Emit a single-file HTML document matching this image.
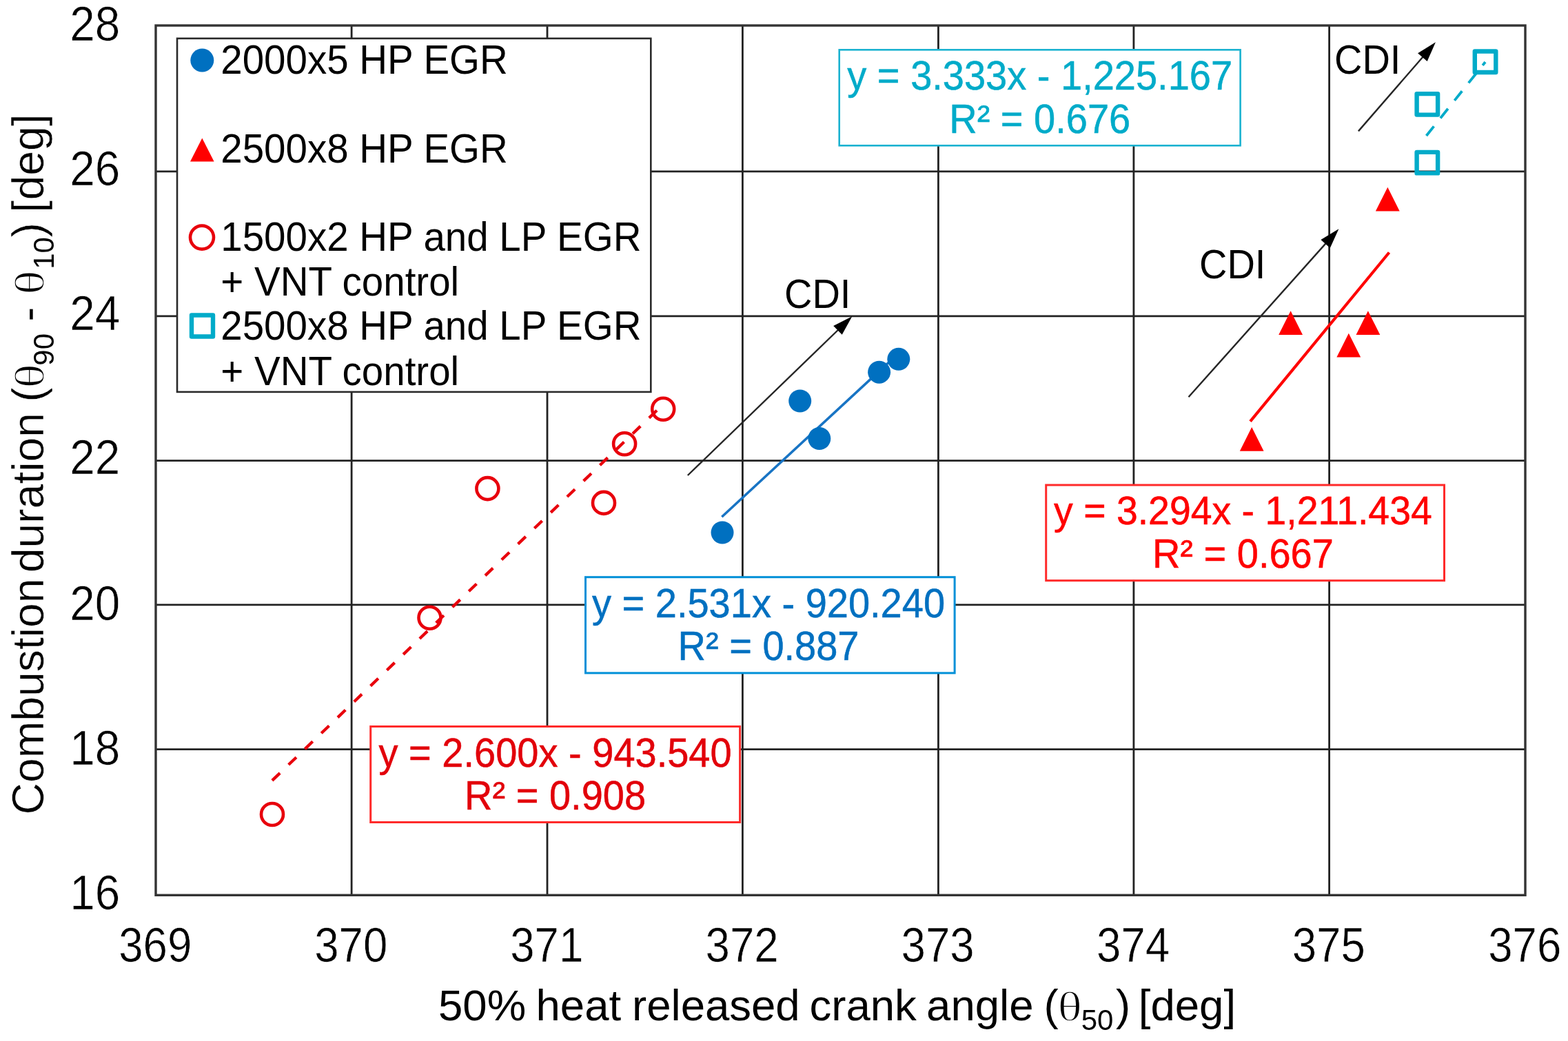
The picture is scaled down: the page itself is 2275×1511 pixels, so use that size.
<!DOCTYPE html>
<html lang="en"><head><meta charset="utf-8"><title>Combustion duration vs 50% heat released crank angle</title>
<style>
html,body{margin:0;padding:0;background:#fff;}
body{width:2275px;height:1511px;overflow:hidden;}
svg{display:block;filter:blur(0.6px);}
text{font-family:"Liberation Sans", Arial, Helvetica, sans-serif;fill:#000;white-space:pre;stroke:none;}
.tick{font-size:63.6px;}
.tick text{stroke:#fff;stroke-width:0.6px;}
.tx{font-size:63.5px;}
.ty{font-size:64.3px;stroke:#fff;stroke-width:0.5px;}
.leg{font-size:56.5px;}
.eq{font-size:56px;text-anchor:middle;stroke-width:0.5px;}
.cdi{font-size:56px;}
.th{font-family:"Liberation Serif","DejaVu Serif",serif;font-size:59px;stroke:#fff;stroke-width:1.3px;}
.sub{font-size:42px;stroke:none;}
</style></head><body>
<svg width="2275" height="1511" viewBox="0 0 2275 1511" role="img" aria-label="Scatter chart of combustion duration versus 50% heat released crank angle">
<rect x="0" y="0" width="2275" height="1511" fill="#ffffff"/>
<g stroke="#222222" stroke-width="2.8" fill="none">
<line x1="226" y1="248.9" x2="2213" y2="248.9"/>
<line x1="226" y1="458.9" x2="2213" y2="458.9"/>
<line x1="226" y1="668.7" x2="2213" y2="668.7"/>
<line x1="226" y1="877.9" x2="2213" y2="877.9"/>
<line x1="226" y1="1087.7" x2="2213" y2="1087.7"/>
<line x1="510.1" y1="37" x2="510.1" y2="1299.3"/>
<line x1="794" y1="37" x2="794" y2="1299.3"/>
<line x1="1077.4" y1="37" x2="1077.4" y2="1299.3"/>
<line x1="1361.4" y1="37" x2="1361.4" y2="1299.3"/>
<line x1="1644.9" y1="37" x2="1644.9" y2="1299.3"/>
<line x1="1928.6" y1="37" x2="1928.6" y2="1299.3"/>
</g>
<rect x="226" y="37" width="1987" height="1262.3" fill="none" stroke="#333333" stroke-width="3.4"/>
<g class="tick" text-anchor="end" style="font-size:65.6px">
<text transform="translate(174.3,59.4) scale(1,1.062)">28</text>
<text transform="translate(174.3,268.9) scale(1,1.062)">26</text>
<text transform="translate(174.3,479.0) scale(1,1.062)">24</text>
<text transform="translate(174.3,688.4) scale(1,1.062)">22</text>
<text transform="translate(174.3,899.9) scale(1,1.062)">20</text>
<text transform="translate(174.3,1110.0) scale(1,1.062)">18</text>
<text transform="translate(174.3,1319.9) scale(1,1.062)">16</text>
</g>
<g class="tick" text-anchor="middle">
<text transform="translate(225.2,1395.9) scale(1,1.095)">369</text>
<text transform="translate(509.3,1395.9) scale(1,1.095)">370</text>
<text transform="translate(793.2,1395.9) scale(1,1.095)">371</text>
<text transform="translate(1076.6,1395.9) scale(1,1.095)">372</text>
<text transform="translate(1360.6,1395.9) scale(1,1.095)">373</text>
<text transform="translate(1644.1,1395.9) scale(1,1.095)">374</text>
<text transform="translate(1927.8,1395.9) scale(1,1.095)">375</text>
<text transform="translate(2212.2,1395.9) scale(1,1.095)">376</text>
</g>
<text class="tx" transform="translate(0,1481) scale(1,1.0)"><tspan x="636.0">50% </tspan><tspan x="777.5">heat </tspan><tspan x="917.1">released </tspan><tspan x="1174.5">crank </tspan><tspan x="1344.1">angle </tspan><tspan x="1514.4">(</tspan><tspan class="th" textLength="35.3" lengthAdjust="spacingAndGlyphs" x="1534.6">θ</tspan><tspan class="sub" x="1568.7" dy="14.0">50</tspan><tspan x="1619.1" dy="-14.0">) </tspan><tspan x="1651.8">[deg]</tspan></text>
<text class="ty" transform="translate(63.4,1200) rotate(-90) scale(1,1.0)"><tspan x="17.5">Combustion </tspan><tspan x="368.7">duration </tspan><tspan x="616.4">(</tspan><tspan class="th" textLength="35.3" lengthAdjust="spacingAndGlyphs" x="636.5">θ</tspan><tspan class="sub" x="669.3" dy="14.3">90 </tspan><tspan x="733.2" dy="-14.3">- </tspan><tspan class="th" textLength="35.3" lengthAdjust="spacingAndGlyphs" x="772.2">θ</tspan><tspan class="sub" x="809.2" dy="14.3">10</tspan><tspan x="855.6" dy="-14.3">) </tspan><tspan x="891.6">[deg]</tspan></text>
<line x1="394.9" y1="1132.9" x2="964" y2="585.2" stroke="#E8000C" stroke-width="4.3" stroke-dasharray="15.6 17.4" fill="none"/>
<line x1="1047.3" y1="750.2" x2="1304" y2="512.5" stroke="#1874C4" stroke-width="3.6" fill="none"/>
<line x1="1814" y1="611.6" x2="2015.5" y2="366.5" stroke="#FF0000" stroke-width="4.2" fill="none"/>
<line x1="2069.5" y1="197" x2="2155" y2="90" stroke="#00ABC9" stroke-width="3.8" stroke-dasharray="17.5 15.2" fill="none"/>
<line x1="997.8" y1="690.0" x2="1216.9" y2="478.0" stroke="#262626" stroke-width="2.4"/>
<polygon points="1236.3,459.2 1221.7,485.8 1209.2,472.9" fill="#000"/>
<line x1="1724.5" y1="576.3" x2="1924.4" y2="352.4" stroke="#262626" stroke-width="2.4"/>
<polygon points="1942.4,332.3 1929.8,359.9 1916.4,347.9" fill="#000"/>
<line x1="1970.9" y1="190.4" x2="2065.2" y2="81.7" stroke="#262626" stroke-width="2.4"/>
<polygon points="2082.9,61.3 2070.7,89.1 2057.1,77.3" fill="#000"/>
<g fill="none" stroke="#E8000C" stroke-width="4.6">
<circle cx="395" cy="1182" r="16"/>
<circle cx="623.5" cy="896.7" r="16"/>
<circle cx="707.4" cy="709.1" r="16"/>
<circle cx="876" cy="729.9" r="16"/>
<circle cx="906.1" cy="644.2" r="16"/>
<circle cx="962.2" cy="593.7" r="16"/>
</g>
<g fill="#0070C0">
<circle cx="1048" cy="773" r="16.5"/>
<circle cx="1160.7" cy="582" r="16.5"/>
<circle cx="1188.8" cy="636.5" r="16.5"/>
<circle cx="1275.6" cy="540.2" r="16.5"/>
<circle cx="1303.8" cy="521.3" r="16.5"/>
</g>
<g fill="#FF0000">
<polygon points="1816.2,620.0 1833.6,654.7 1798.8,654.7"/>
<polygon points="1872.6,451.2 1890.0,485.9 1855.2,485.9"/>
<polygon points="1956.8,483.8 1974.2,518.5 1939.4,518.5"/>
<polygon points="1984.9,451.2 2002.3,485.9 1967.5,485.9"/>
<polygon points="2013.3,271.7 2030.7,306.4 1995.9,306.4"/>
</g>
<g fill="none" stroke="#00ABC9" stroke-width="6.4" stroke-linejoin="round">
<rect x="2139.8" y="74.5" width="30.5" height="30.5"/>
<rect x="2055.6" y="136.1" width="30.5" height="30.5"/>
<rect x="2055.6" y="220.9" width="30.5" height="30.5"/>
</g>
<rect x="1217.7" y="72.3" width="581.9" height="139.0" fill="#fff" stroke="#1AB2D0" stroke-width="2.6"/>
<text class="eq" style="fill:#00ABC9;stroke:#00ABC9" transform="translate(1508.7,130) scale(1,1.045)">y = 3.333x - 1,225.167</text>
<text class="eq" style="fill:#00ABC9;stroke:#00ABC9" transform="translate(1508.7,192.6) scale(1,1.045)">R² = 0.676</text>
<rect x="849.5" y="837.7" width="535.6" height="139.2" fill="#fff" stroke="#0090D8" stroke-width="3"/>
<text class="eq" style="fill:#0070C0;stroke:#0070C0" transform="translate(1115.0,896) scale(1,1.045)">y = 2.531x - 920.240</text>
<text class="eq" style="fill:#0070C0;stroke:#0070C0" transform="translate(1115.0,958) scale(1,1.045)">R² = 0.887</text>
<rect x="537.7" y="1054.5" width="535.9" height="139.0" fill="#fff" stroke="#FF2A2A" stroke-width="3"/>
<text class="eq" style="fill:#E2000A;stroke:#E2000A" transform="translate(805.6,1112.6) scale(1,1.045)">y = 2.600x - 943.540</text>
<text class="eq" style="fill:#E2000A;stroke:#E2000A" transform="translate(805.6,1175.1) scale(1,1.045)">R² = 0.908</text>
<rect x="1517.7" y="704" width="577.8" height="138.7" fill="#fff" stroke="#FF2A2A" stroke-width="3"/>
<text class="eq" style="fill:#FF0000;stroke:#FF0000;font-size:55.4px" transform="translate(1803.4,761.2) scale(1,1.045)">y = 3.294x - 1,211.434</text>
<text class="eq" style="fill:#FF0000;stroke:#FF0000" transform="translate(1803.4,824.4) scale(1,1.045)">R² = 0.667</text>
<text class="cdi" transform="translate(1138,446.5) scale(1,1.045)">CDI</text>
<text class="cdi" transform="translate(1740,404) scale(1,1.045)">CDI</text>
<text class="cdi" transform="translate(1936,106.5) scale(1,1.045)">CDI</text>
<rect x="257" y="55.8" width="687.3" height="513.1" fill="#fff" stroke="#2a2a2a" stroke-width="2.6"/>
<circle cx="293.3" cy="87.5" r="17" fill="#0070C0"/>
<polygon points="293.3,200.4 310.6,234.6 276,234.6" fill="#FF0000"/>
<circle cx="293" cy="344.6" r="17" fill="none" stroke="#E8000C" stroke-width="4.6"/>
<rect x="278" y="457.5" width="31" height="31" fill="none" stroke="#00ABC9" stroke-width="6.4" stroke-linejoin="round"/>
<g class="leg">
<text transform="translate(320.3,106.6) scale(1,1.045)">2000x5 HP EGR</text>
<text transform="translate(320.3,235.8) scale(1,1.045)">2500x8 HP EGR</text>
<text transform="translate(320.3,363.9) scale(1,1.045)">1500x2 HP and LP EGR</text>
<text transform="translate(320.3,429.4) scale(1,1.045)">+ VNT control</text>
<text transform="translate(320.3,493.2) scale(1,1.045)">2500x8 HP and LP EGR</text>
<text transform="translate(320.3,559.1) scale(1,1.045)">+ VNT control</text>
</g>
</svg>
</body></html>
